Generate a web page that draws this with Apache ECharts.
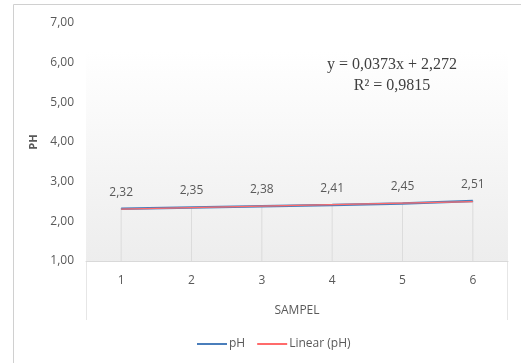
<!DOCTYPE html>
<html>
<head>
<meta charset="utf-8">
<script src="https://cdn.jsdelivr.net/npm/echarts@6/dist/echarts.min.js"></script>
<style>
  html, body { margin: 0; padding: 0; background: #fff; }
  #chart { width: 521px; height: 363px; }
</style>
</head>
<body>
<div id="chart"></div>
<script>
  // data
  const samples = ['1', '2', '3', '4', '5', '6']
  const phValues = [2.32, 2.35, 2.38, 2.41, 2.45, 2.51]
  // linear trend as Excel drew it (y = 0,0373x + 2,272)
  const trendValues = [2.309, 2.347, 2.384, 2.421, 2.459, 2.496]
  const equationLines = ['y = 0,0373x + 2,272', 'R² = 0,9815']

  const font = '"Open Sans", sans-serif'
  const grey = '#595959'
  const fmt = v => v.toFixed(2).replace('.', ',')

  const chart = echarts.init(document.getElementById('chart'))
  const option = {
    animation: false,
    textStyle: { fontFamily: font },
    graphic: [
      {
        type: 'rect',
        shape: { x: 13.5, y: 4.5, width: 520, height: 370 },
        style: { fill: 'none', stroke: '#d0d0d0', lineWidth: 1 },
        z: -10
      },
      {
        // plot area sides below the axis
        type: 'polyline',
        shape: { points: [[86.5, 262], [86.5, 320]] },
        style: { stroke: '#e6e6e6', lineWidth: 1 }
      },
      {
        type: 'polyline',
        shape: { points: [[507.5, 262], [507.5, 320]] },
        style: { stroke: '#e6e6e6', lineWidth: 1 }
      },
      {
        type: 'text',
        x: 392,
        y: 54,
        style: {
          text: equationLines.join('\n'),
          font: '16px "Liberation Serif", serif',
          fill: '#404040',
          align: 'center',
          verticalAlign: 'top',
          lineHeight: 21
        }
      }
    ],
    grid: {
      left: 86,
      right: 13,
      top: 23,
      bottom: 102,
      show: true,
      borderWidth: 0,
      backgroundColor: new echarts.graphic.LinearGradient(0, 0, 0, 1, [
        { offset: 0, color: '#ffffff' },
        { offset: 0.12, color: '#ffffff' },
        { offset: 1, color: '#ededed' }
      ])
    },
    legend: {
      data: ['pH', 'Linear (pH)'],
      bottom: 8,
      left: 192,
      icon: 'rect',
      itemWidth: 30,
      itemHeight: 2,
      itemGap: 12,
      textStyle: { fontSize: 12, color: grey, fontFamily: font, padding: [0, 0, 0, -3] }
    },
    xAxis: {
      type: 'category',
      data: samples,
      name: 'SAMPEL',
      nameLocation: 'middle',
      nameGap: 44,
      nameTextStyle: { fontSize: 12, color: grey },
      axisLine: { lineStyle: { color: '#d9d9d9' } },
      axisTick: { show: false },
      axisLabel: { fontSize: 12, color: grey, margin: 14 },
      splitLine: { show: false }
    },
    yAxis: {
      type: 'value',
      min: 1,
      max: 7,
      interval: 1,
      name: 'PH',
      nameLocation: 'middle',
      nameGap: 42,
      nameTextStyle: { fontSize: 11, color: grey, fontWeight: 'bold' },
      axisLine: { show: false },
      axisTick: { show: false },
      splitLine: { show: false },
      axisLabel: { fontSize: 12, color: grey, margin: 12, formatter: fmt }
    },
    series: [
      {
        name: 'drop',
        type: 'bar',
        data: phValues,
        barWidth: 1,
        silent: true,
        itemStyle: { color: '#dcdcdc' },
        z: 1
      },
      {
        name: 'pH',
        type: 'line',
        data: phValues,
        symbol: 'circle',
        symbolSize: 1,
        color: '#4a7ebb',
        lineStyle: { width: 2.5, color: '#4a7ebb' },
        label: {
          show: true,
          position: 'top',
          distance: 10,
          fontSize: 12,
          color: grey,
          formatter: p => fmt(p.value)
        },
        z: 3
      },
      {
        name: 'Linear (pH)',
        type: 'line',
        data: trendValues,
        symbol: 'none',
        color: '#ff6b6b',
        lineStyle: { width: 1.2, color: '#ff6b6b' },
        z: 4
      }
    ]
  }
  chart.setOption(option)
</script>
</body>
</html>
